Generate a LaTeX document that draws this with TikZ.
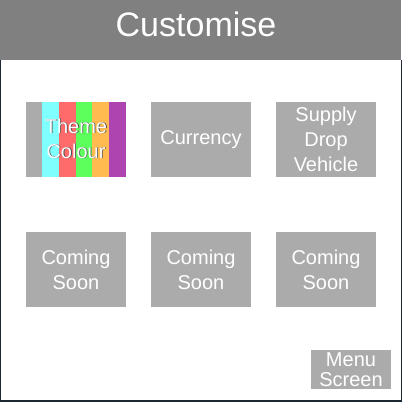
\documentclass[tikz,border=0pt]{standalone}
\usepackage{fontspec}
\setmainfont{Liberation Sans}
\definecolor{headgray}{HTML}{808080}
\definecolor{tilegray}{HTML}{ABABAB}
\definecolor{frameline}{HTML}{1C2833}
\definecolor{stripecyan}{HTML}{80FFFF}
\definecolor{stripered}{HTML}{FF6B6B}
\definecolor{stripegreen}{HTML}{5CFF5C}
\definecolor{stripeorange}{HTML}{FFBB4F}
\definecolor{stripepurple}{HTML}{AE44B0}
\begin{document}
\begin{tikzpicture}[line join=bevel,
  tile/.style={fill=tilegray,draw=none,minimum width=100bp,minimum height=75bp,inner sep=0pt,
    text=white,align=center,font=\fontsize{20bp}{25bp}\selectfont},
  menubtn/.style={tile,minimum width=80bp,minimum height=39bp,font=\fontsize{20bp}{19.5bp}\selectfont},
  label/.style={draw=none,inner sep=0pt,align=center,font=\fontsize{20bp}{25bp}\selectfont},
]
%%
\useasboundingbox [fill=white] (0bp,0bp) rectangle (402bp,-402bp);
\fill [frameline] (0bp,-60bp) rectangle (1bp,-402bp);
\fill [frameline] (401bp,-60bp) rectangle (402bp,-402bp);
\fill [frameline] (0bp,-400bp) rectangle (402bp,-402bp);
\node (header) at (200.5bp,-30bp) [fill=headgray,draw=none,minimum width=401bp,minimum height=60bp,inner sep=0pt] {};
\node (title) at (196bp,-36bp) [anchor=base,text=white,inner sep=0pt,font=\fontsize{34bp}{40bp}\selectfont] {Customise};
%
\node (tile_theme) at (76bp,-139.5bp) [tile] {};
\foreach \c [count=\i] in {stripecyan,stripered,stripegreen,stripeorange,stripepurple}
  \fill [\c] ({42bp+(\i-1)*16.8bp},-102bp) rectangle ({42bp+\i*16.8bp},-177bp);
\node (theme_shadow) at (76.8bp,-139.3bp) [label,text=black!70] {Theme\\Colour};
\node (theme_text) at (76bp,-138.5bp) [label,text=white] {Theme\\Colour};
\node (tile_currency) at (201bp,-139.5bp) [tile] {Currency};
\node (tile_supply) at (326bp,-139.5bp) [tile] {Supply\\Drop\\Vehicle};
%
\node (tile_soon_a) at (76bp,-269.5bp) [tile] {Coming\\Soon};
\node (tile_soon_b) at (201bp,-269.5bp) [tile] {Coming\\Soon};
\node (tile_soon_c) at (326bp,-269.5bp) [tile] {Coming\\Soon};
%
\node (menu_screen) at (351bp,-369.5bp) [menubtn] {Menu\\Screen};
%
\end{tikzpicture}
\end{document}
